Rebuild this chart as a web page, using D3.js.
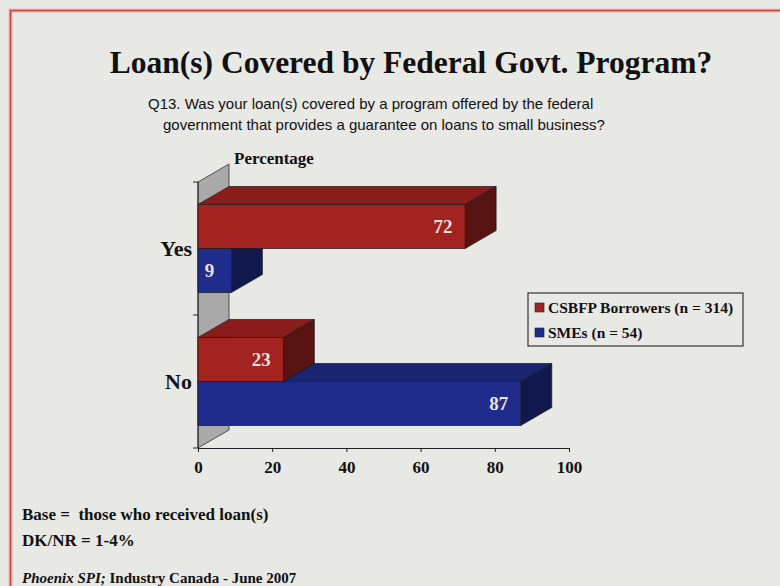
<!DOCTYPE html>
<html>
<head>
<meta charset="utf-8">
<script src="https://cdn.jsdelivr.net/npm/d3@7"></script>
<style>
  html, body { margin: 0; padding: 0; background: #e8e8e5; }
  svg { display: block; }
  .serif { font-family: "Liberation Serif", "Times New Roman", serif; font-weight: bold; }
  .sans { font-family: "Liberation Sans", Arial, sans-serif; }
</style>
</head>
<body>
<svg id="chart" width="780" height="586"></svg>
<script>
// Survey answers and series
const categories = ["Yes", "No"];
const seriesNames = ["CSBFP Borrowers (n = 314)", "SMEs (n = 54)"];
const csbfpValues = [72, 23];
const smeValues = [9, 87];
const xTicks = [0, 20, 40, 60, 80, 100];

const svg = d3.select("#chart");
const W = 780, H = 586;

// page background and frame
svg.append("rect").attr("width", W).attr("height", H).attr("fill", "#e8e8e5");
svg.append("path")
  .attr("d", `M10.5,${H} L10.5,10.5 L${W},10.5`)
  .attr("fill", "none").attr("stroke", "#f0b6ac").attr("stroke-width", 4);
svg.append("path")
  .attr("d", `M10.5,${H} L10.5,10.5 L${W},10.5`)
  .attr("fill", "none").attr("stroke", "#c0463f").attr("stroke-width", 1.6);

// title and question
svg.append("text").attr("class", "serif")
  .attr("x", 411).attr("y", 73).attr("text-anchor", "middle")
  .attr("font-size", 31.5).attr("fill", "#111")
  .text("Loan(s) Covered by Federal Govt. Program?");
svg.append("text").attr("class", "sans")
  .attr("x", 148).attr("y", 109).attr("font-size", 15).attr("fill", "#111")
  .text("Q13. Was your loan(s) covered by a program offered by the federal");
svg.append("text").attr("class", "sans")
  .attr("x", 163).attr("y", 130).attr("font-size", 15).attr("fill", "#111")
  .text("government that provides a guarantee on loans to small business?");

// plot geometry (front plane) and 3-D depth offset
const plot = { left: 198, right: 569, top: 182, bottom: 448 };
const depth = { dx: 31, dy: -18 };

const x = d3.scaleLinear().domain([0, 100]).range([plot.left, plot.right]);
const y0 = d3.scaleBand().domain(categories).range([plot.top, plot.bottom])
  .paddingInner(0.338).paddingOuter(0.169);
const y1 = d3.scaleBand().domain(seriesNames).range([0, y0.bandwidth()]);

const colors = {
  [seriesNames[0]]: { front: "#a32320", top: "#8a1c1b", side: "#581313" },
  [seriesNames[1]]: { front: "#1f2c8c", top: "#1a2470", side: "#10184e" }
};

// left side wall
svg.append("path")
  .attr("d", `M${plot.left},${plot.top} L${plot.left + depth.dx},${plot.top + depth.dy}
              L${plot.left + depth.dx},${plot.bottom + depth.dy} L${plot.left},${plot.bottom} Z`)
  .attr("fill", "#a9a9a9").attr("stroke", "#333").attr("stroke-width", 0.8);

// axis lines
svg.append("line")
  .attr("x1", plot.left).attr("x2", plot.left)
  .attr("y1", plot.top).attr("y2", plot.bottom)
  .attr("stroke", "#222").attr("stroke-width", 1);
const yTickPos = [plot.top, (plot.top + plot.bottom) / 2, plot.bottom];
svg.selectAll(".ytick").data(yTickPos).join("line")
  .attr("x1", plot.left - 5).attr("x2", plot.left)
  .attr("y1", d => d).attr("y2", d => d)
  .attr("stroke", "#222");

const xAxis = d3.axisBottom(x).tickValues(xTicks).tickSize(4).tickSizeOuter(0).tickPadding(9);
const gx = svg.append("g").attr("transform", `translate(0,${plot.bottom})`).call(xAxis);
gx.select(".domain").attr("stroke", "#222");
gx.selectAll(".tick line").attr("stroke", "#222");
gx.selectAll(".tick text").attr("class", "serif").attr("font-size", 17).attr("fill", "#111");

svg.append("text").attr("class", "serif")
  .attr("x", 234).attr("y", 164).attr("font-size", 17).attr("fill", "#111")
  .text("Percentage");

// category labels
svg.selectAll(".cat").data(categories).join("text")
  .attr("class", "serif")
  .attr("x", 192).attr("y", d => y0(d) + y0.bandwidth() / 2 + 7.5)
  .attr("text-anchor", "end").attr("font-size", 22).attr("fill", "#111")
  .text(d => d);

// 3-D bars: lower bar of each pair first so the upper bar's side overlaps it
const rows = [];
categories.forEach((c, i) => {
  rows.push({ cat: c, series: seriesNames[1], value: smeValues[i] });
  rows.push({ cat: c, series: seriesNames[0], value: csbfpValues[i] });
});

const bars = svg.selectAll(".bar").data(rows).join("g").attr("class", "bar");
bars.each(function (d) {
  const g = d3.select(this);
  const x0 = x(0), xe = x(d.value);
  const yt = y0(d.cat) + y1(d.series), yb = yt + y1.bandwidth();
  const c = colors[d.series];
  const { dx, dy } = depth;
  g.append("path")
    .attr("d", `M${x0},${yt} L${x0 + dx},${yt + dy} L${xe + dx},${yt + dy} L${xe},${yt} Z`)
    .attr("fill", c.top).attr("stroke", "#1a1a1a").attr("stroke-width", 0.7);
  g.append("path")
    .attr("d", `M${xe},${yt} L${xe + dx},${yt + dy} L${xe + dx},${yb + dy} L${xe},${yb} Z`)
    .attr("fill", c.side).attr("stroke", "#1a1a1a").attr("stroke-width", 0.7);
  g.append("rect")
    .attr("x", x0).attr("y", yt).attr("width", xe - x0).attr("height", yb - yt)
    .attr("fill", c.front).attr("stroke", "#1a1a1a").attr("stroke-width", 0.7);
  g.append("text").attr("class", "serif")
    .attr("x", xe - 22).attr("y", (yt + yb) / 2 + 6.5)
    .attr("text-anchor", "middle").attr("font-size", 19).attr("fill", "#f1e2dc")
    .text(d.value);
});

// legend
const lg = svg.append("g").attr("transform", "translate(528,293)");
lg.append("rect").attr("width", 215).attr("height", 53)
  .attr("fill", "#e8e8e5").attr("stroke", "#333").attr("stroke-width", 1.2);
seriesNames.forEach((s, i) => {
  lg.append("rect").attr("x", 7).attr("y", 10 + i * 25).attr("width", 9).attr("height", 9)
    .attr("fill", colors[s].front).attr("stroke", "#222").attr("stroke-width", 0.6);
  lg.append("text").attr("class", "serif")
    .attr("x", 20).attr("y", 20 + i * 25).attr("font-size", 15.5).attr("fill", "#111")
    .text(s);
});

// notes
svg.append("text").attr("class", "serif")
  .attr("x", 22).attr("y", 520).attr("font-size", 17).attr("fill", "#111")
  .attr("xml:space", "preserve")
  .text("Base =  those who received loan(s)");
svg.append("text").attr("class", "serif")
  .attr("x", 22).attr("y", 546).attr("font-size", 17).attr("fill", "#111")
  .text("DK/NR = 1-4%");
const src = svg.append("text").attr("class", "serif")
  .attr("x", 22).attr("y", 583).attr("font-size", 15).attr("fill", "#111");
src.append("tspan").attr("font-style", "italic").text("Phoenix SPI;");
src.append("tspan").text(" Industry Canada - June 2007");
</script>
</body>
</html>
